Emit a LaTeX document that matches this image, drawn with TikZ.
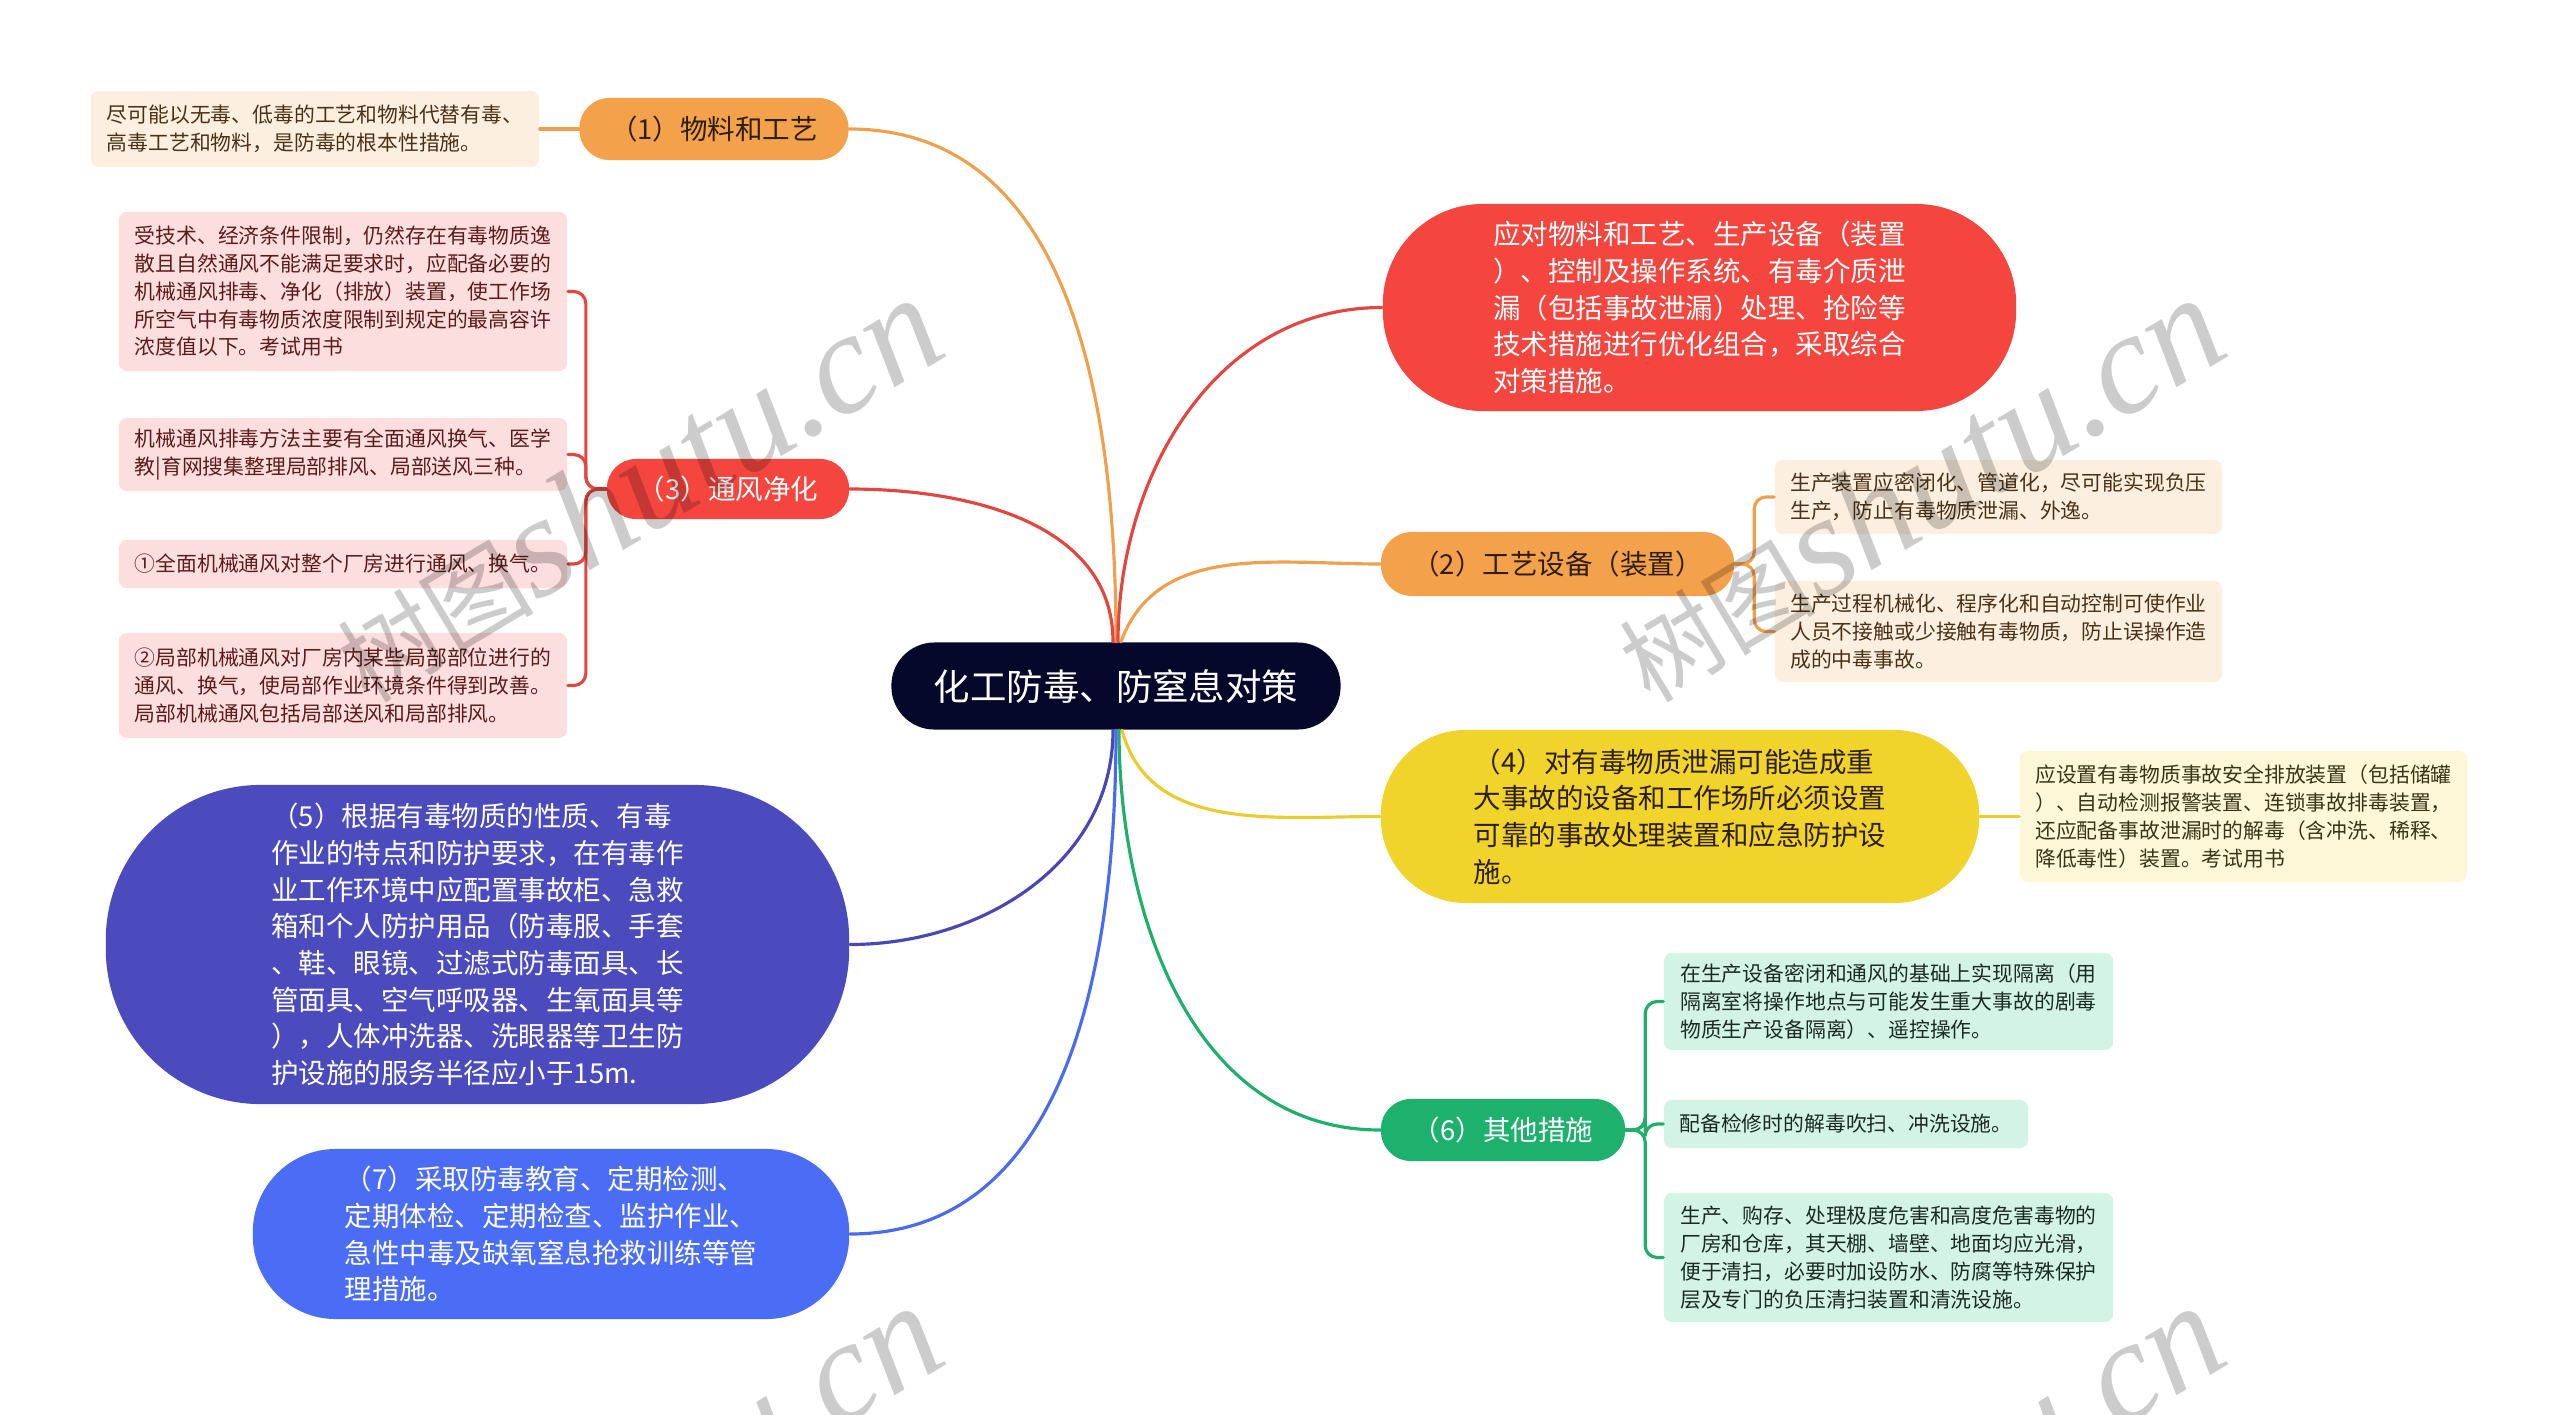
\documentclass[tikz,border=0pt]{standalone}
\usepackage{fontspec}
\setmainfont{Noto Sans CJK SC}
\newfontfamily\wmcjk{Noto Sans CJK SC}
\newfontfamily\wmlat{Liberation Serif}
\usetikzlibrary{calc}
\definecolor{cNavy}{HTML}{05072B}
\definecolor{cOrange}{HTML}{F4A14B}
\definecolor{cOrangeL}{HTML}{EFA04F}
\definecolor{cPeach}{HTML}{FDEFE0}
\definecolor{cPeachTxt}{HTML}{4A3218}
\definecolor{cRed}{HTML}{F4463F}
\definecolor{cRedL}{HTML}{E2463E}
\definecolor{cPink}{HTML}{FDDEDE}
\definecolor{cPinkTxt}{HTML}{5B1C1C}
\definecolor{cYellow}{HTML}{F0D32B}
\definecolor{cYellowL}{HTML}{EBCB2E}
\definecolor{cCream}{HTML}{FDF7D7}
\definecolor{cCreamTxt}{HTML}{3A3418}
\definecolor{cGreen}{HTML}{1EB16D}
\definecolor{cGreenL}{HTML}{1EAF6B}
\definecolor{cMint}{HTML}{D2F3E5}
\definecolor{cMintTxt}{HTML}{1C2B24}
\definecolor{cIndigo}{HTML}{4B4BBD}
\definecolor{cIndigoL}{HTML}{4848B4}
\definecolor{cBlue}{HTML}{4B6DF5}
\definecolor{cBlueL}{HTML}{4A6AF0}
\definecolor{cDarkTxt}{HTML}{2E1E0C}
\newcommand\leaffont{\fontsize{5.92pt}{7.9pt}\selectfont}
\newcommand\subfont{\fontsize{7.82pt}{10.44pt}\selectfont}
\newcommand\titlefont{\fontsize{10.36pt}{13pt}\selectfont}
\begin{document}
\begin{tikzpicture}[x=0.01cm,y=-0.01cm,
  box/.style={inner sep=0pt, align=left},
  leaf/.style={box, font=\leaffont, rounded corners=0.08cm},
  topic/.style={box, font=\subfont},
  conn/.style={line width=0.9pt, line cap=round},
  brk/.style={conn, rounded corners=0.12cm},
  wm/.style={text=black, text opacity=0.2, rotate=31, anchor=south west, inner sep=0pt}
]
\useasboundingbox (0,0) rectangle (2560,1415);
\clip (0,0) rectangle (2560,1415);

% centre
\node[box, fill=cNavy, text=white, font=\titlefont, minimum width=4.49cm, minimum height=0.87cm, rounded corners=0.43cm] (C) at (1116,686) {化工防毒、防窒息对策};

% (1)
\node[topic, fill=cOrange, text=cDarkTxt, minimum width=2.69cm, minimum height=0.62cm, rounded corners=0.3cm] (N1) at (714,129) {（1）物料和工艺};
\node[leaf, fill=cPeach, text=cPeachTxt, minimum width=4.48cm, minimum height=0.76cm] (L1) at (315,129) {尽可能以无毒、低毒的工艺和物料代替有毒、\\高毒工艺和物料，是防毒的根本性措施。};

% (3)
\node[topic, fill=cRed, text=white, minimum width=2.42cm, minimum height=0.60cm, rounded corners=0.29cm] (N3) at (728,489) {（3）通风净化};
\node[leaf, fill=cPink, text=cPinkTxt, minimum width=4.48cm, minimum height=1.59cm] (L3a) at (343,291.5) {受技术、经济条件限制，仍然存在有毒物质逸\\散且自然通风不能满足要求时，应配备必要的\\机械通风排毒、净化（排放）装置，使工作场\\所空气中有毒物质浓度限制到规定的最高容许\\浓度值以下。考试用书};
\node[leaf, fill=cPink, text=cPinkTxt, minimum width=4.48cm, minimum height=0.73cm] (L3b) at (343,454.5) {机械通风排毒方法主要有全面通风换气、医学\\教|育网搜集整理局部排风、局部送风三种。};
\node[leaf, fill=cPink, text=cPinkTxt, minimum width=4.48cm, minimum height=0.48cm] (L3c) at (343,564) {①全面机械通风对整个厂房进行通风、换气。};
\node[leaf, fill=cPink, text=cPinkTxt, minimum width=4.48cm, minimum height=1.05cm] (L3d) at (343,685.5) {②局部机械通风对厂房内某些局部部位进行的\\通风、换气，使局部作业环境条件得到改善。\\局部机械通风包括局部送风和局部排风。};

% right red
\node[topic, fill=cRed, text=white, minimum width=6.33cm, minimum height=2.07cm, rounded corners=1.0cm] (R1) at (1699.5,307.5) {应对物料和工艺、生产设备（装置\\）、控制及操作系统、有毒介质泄\\漏（包括事故泄漏）处理、抢险等\\技术措施进行优化组合，采取综合\\对策措施。};

% (2)
\node[topic, fill=cOrange, text=cDarkTxt, minimum width=3.53cm, minimum height=0.64cm, rounded corners=0.31cm] (N2) at (1557.5,564) {（2）工艺设备（装置）};
\node[leaf, fill=cPeach, text=cPeachTxt, minimum width=4.47cm, minimum height=0.74cm] (L2a) at (1998.5,497) {生产装置应密闭化、管道化，尽可能实现负压\\生产，防止有毒物质泄漏、外逸。};
\node[leaf, fill=cPeach, text=cPeachTxt, minimum width=4.47cm, minimum height=1.01cm] (L2b) at (1998.5,631.5) {生产过程机械化、程序化和自动控制可使作业\\人员不接触或少接触有毒物质，防止误操作造\\成的中毒事故。};

% (4)
\node[topic, fill=cYellow, text=cDarkTxt, minimum width=5.98cm, minimum height=1.73cm, rounded corners=0.85cm] (N4) at (1680,816.5) {（4）对有毒物质泄漏可能造成重\\大事故的设备和工作场所必须设置\\可靠的事故处理装置和应急防护设\\施。};
\node[leaf, fill=cCream, text=cCreamTxt, minimum width=4.47cm, minimum height=1.31cm] (L4) at (2243.5,816.5) {应设置有毒物质事故安全排放装置（包括储罐\\）、自动检测报警装置、连锁事故排毒装置，\\还应配备事故泄漏时的解毒（含冲洗、稀释、\\降低毒性）装置。考试用书};

% (6)
\node[topic, fill=cGreen, text=white, minimum width=2.44cm, minimum height=0.62cm, rounded corners=0.3cm] (N6) at (1503,1130) {（6）其他措施};
\node[leaf, fill=cMint, text=cMintTxt, minimum width=4.49cm, minimum height=0.97cm] (L6a) at (1888.5,1001.5) {在生产设备密闭和通风的基础上实现隔离（用\\隔离室将操作地点与可能发生重大事故的剧毒\\物质生产设备隔离）、遥控操作。};
\node[leaf, fill=cMint, text=cMintTxt, minimum width=3.64cm, minimum height=0.48cm] (L6b) at (1846,1124) {配备检修时的解毒吹扫、冲洗设施。};
\node[leaf, fill=cMint, text=cMintTxt, minimum width=4.49cm, minimum height=1.29cm] (L6c) at (1888.5,1257.5) {生产、购存、处理极度危害和高度危害毒物的\\厂房和仓库，其天棚、墙壁、地面均应光滑，\\便于清扫，必要时加设防水、防腐等特殊保护\\层及专门的负压清扫装置和清洗设施。};

% (5)
\node[topic, fill=cIndigo, text=white, minimum width=7.43cm, minimum height=3.19cm, rounded corners=1.55cm] (N5) at (477.5,944.5) {（5）根据有毒物质的性质、有毒\\作业的特点和防护要求，在有毒作\\业工作环境中应配置事故柜、急救\\箱和个人防护用品（防毒服、手套\\、鞋、眼镜、过滤式防毒面具、长\\管面具、空气呼吸器、生氧面具等\\），人体冲洗器、洗眼器等卫生防\\护设施的服务半径应小于15m.};

% (7)
\node[topic, fill=cBlue, text=white, minimum width=5.96cm, minimum height=1.70cm, rounded corners=0.83cm] (N7) at (551,1234) {（7）采取防毒教育、定期检测、\\定期体检、定期检查、监护作业、\\急性中毒及缺氧窒息抢救训练等管\\理措施。};

% main connectors
\draw[conn, draw=cOrangeL] (C.north) to[out=90,in=0] (N1.east);
\draw[conn, draw=cRedL] ($(C.north)+(-3,0)$) to[out=90,in=0] (N3.east);
\draw[conn, draw=cRedL] ($(C.north)+(2,0)$) to[out=90,in=180] (R1.west);
\draw[conn, draw=cOrangeL] ($(C.north)+(5,0)$) to[out=70,in=180] (N2.west);
\draw[conn, draw=cYellowL] ($(C.south)+(6,0)$) to[out=-75,in=180] (N4.west);
\draw[conn, draw=cGreenL] ($(C.south)+(3,0)$) to[out=-90,in=180] (N6.west);
\draw[conn, draw=cIndigoL] ($(C.south)+(-3,0)$) to[out=-90,in=0] (N5.east);
\draw[conn, draw=cBlueL] (C.south) to[out=-90,in=0] (N7.east);

% leaf connectors
\draw[conn, draw=cOrangeL] (N1.west) -- (L1.east);
\draw[conn, draw=cYellowL] (N4.east) -- (L4.west);
\foreach \l in {L3a,L3b,L3c,L3d}
  \draw[brk, draw=cRedL] (N3.west) -| ($(\l.east)+(18,0)$) -- (\l.east);
\foreach \l in {L2a,L2b}
  \draw[brk, draw=cOrangeL] (N2.east) -| ($(\l.west)+(-20,0)$) -- (\l.west);
\foreach \l in {L6a,L6b,L6c}
  \draw[brk, draw=cGreenL] (N6.east) -| ($(\l.west)+(-18,0)$) -- (\l.west);

% watermarks
\foreach \wx/\wy in {372/712,1654/712,372/1720,1654/1720}
  \node[wm] at (\wx,\wy) {\wmcjk\fontsize{28pt}{28pt}\selectfont 树图\wmlat\itshape\fontsize{41pt}{41pt}\selectfont shutu.cn};
\end{tikzpicture}
\end{document}
